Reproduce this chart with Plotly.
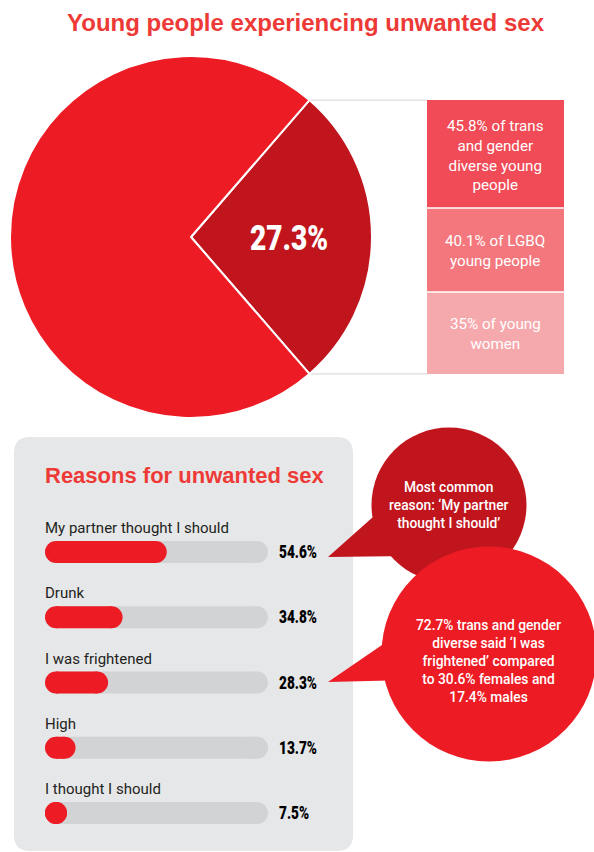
import math
import plotly.graph_objects as go

W, H = 594, 852

# ---------------- data ----------------
overall_share = [27.3, 72.7]
overall_labels = ["Experienced unwanted sex", "Did not"]

group_notes = [
    "45.8% of trans<br>and gender<br>diverse young<br>people",
    "40.1% of LGBQ<br>young people",
    "35% of young<br>women",
]

reasons = [
    "My partner thought I should",
    "Drunk",
    "I was frightened",
    "High",
    "I thought I should",
]
reason_pct = [54.6, 34.8, 28.3, 13.7, 7.5]
full_scale = [100, 100, 100, 100, 100]

callouts = [
    "Most common<br>reason: ‘My partner<br>thought I should’",
    "72.7% trans and gender<br>diverse said ‘I was<br>frightened’ compared<br>to 30.6% females and<br>17.4% males",
]

# ---------------- style ----------------
RED = "#ED1C24"
DARK_RED = "#C1151E"
TITLE_RED = "#EE3A36"
BOX_COLORS = ["#F04B56", "#F3777D", "#F6A9AD"]
PANEL = "#E6E7E8"
TRACK = "#D1D3D4"
INK = "#231F20"
RULE = "#DCDDDE"

BODY = "Roboto, 'Open Sans', sans-serif"
HEAD = "'Liberation Sans', Arial, sans-serif"
NUM = "Roboto, 'Liberation Sans', sans-serif"


def px(x):
    return x / W


def py(y):
    return 1 - y / H


# pie geometry (pixels)
CX, CY, R = 191, 237, 181

# bar panel geometry (pixels)
TRACK_X0, TRACK_X1 = 45, 268
ROW_TOP, ROW_BOTTOM = 552, 813
BAR_PX = 22
row_step = (ROW_BOTTOM - ROW_TOP) / (len(reasons) - 1)
# half the bar thickness expressed in percentage units of the track
cap = (BAR_PX / 2) / (TRACK_X1 - TRACK_X0) * 100

fig = go.Figure()

# ---- headline pie ----
fig.add_trace(go.Pie(
    values=overall_share,
    labels=overall_labels,
    sort=False,
    direction="clockwise",
    rotation=90 - overall_share[0] / sum(overall_share) * 180,
    marker=dict(colors=[DARK_RED, RED], line=dict(color="white", width=2)),
    textinfo="none",
    hoverinfo="skip",
    showlegend=False,
    domain=dict(x=[px(CX - R), px(CX + R)], y=[py(CY + R), py(CY - R)]),
))


def pill(values, color):
    """Pill-shaped bars: a thick segment between two round end caps.
    Each pill runs from 0 to its value (never shorter than one round cap)."""
    xs, ys = [], []
    for name, v in zip(reasons, values):
        xs += [cap, max(v - cap, cap), None]
        ys += [name, name, None]
    fig.add_trace(go.Scatter(
        x=xs, y=ys, mode="lines+markers",
        line=dict(color=color, width=BAR_PX),
        marker=dict(size=BAR_PX, color=color, line=dict(width=0)),
        xaxis="x2", yaxis="y2", hoverinfo="skip", showlegend=False,
        cliponaxis=False,
    ))


pill(full_scale, TRACK)
pill(reason_pct, RED)

shapes = []
annotations = []

# ---- grey panel behind the bars ----
x0, y0, x1, y1, r = 14, 437, 353, 851, 16
panel_path = (
    f"M {px(x0 + r)},{py(y0)} L {px(x1 - r)},{py(y0)} "
    f"Q {px(x1)},{py(y0)} {px(x1)},{py(y0 + r)} L {px(x1)},{py(y1 - r)} "
    f"Q {px(x1)},{py(y1)} {px(x1 - r)},{py(y1)} L {px(x0 + r)},{py(y1)} "
    f"Q {px(x0)},{py(y1)} {px(x0)},{py(y1 - r)} L {px(x0)},{py(y0 + r)} "
    f"Q {px(x0)},{py(y0)} {px(x0 + r)},{py(y0)} Z"
)
shapes.append(dict(type="path", path=panel_path, xref="paper", yref="paper",
                   fillcolor=PANEL, line=dict(width=0), layer="below"))

# ---- connector rules from the slice edges to the breakdown boxes ----
half = overall_share[0] / sum(overall_share) * math.pi
ex = CX + R * math.cos(half)
ey_top = CY - R * math.sin(half)
ey_bot = CY + R * math.sin(half)
BOX_X0, BOX_X1 = 427, 564
for yy in (ey_top, ey_bot):
    shapes.append(dict(type="line", xref="paper", yref="paper",
                       x0=px(ex), x1=px(BOX_X0), y0=py(yy), y1=py(yy),
                       line=dict(color=RULE, width=1.2), layer="below"))

# ---- breakdown boxes ----
box_edges = [ey_top, 208, 292, ey_bot]
for i, note in enumerate(group_notes):
    top, bot = box_edges[i], box_edges[i + 1]
    shapes.append(dict(type="rect", xref="paper", yref="paper",
                       x0=px(BOX_X0), x1=px(BOX_X1),
                       y0=py(bot - (0.8 if i < 2 else 0)), y1=py(top + (0.8 if i > 0 else 0)),
                       fillcolor=BOX_COLORS[i], line=dict(width=0), layer="below"))
    annotations.append(dict(text=note, xref="paper", yref="paper",
                            x=px((BOX_X0 + BOX_X1) / 2), y=py((top + bot) / 2 + 1),
                            xanchor="center", yanchor="middle", showarrow=False,
                            font=dict(family=BODY, size=15.2, color="white")))

# ---- share in the highlighted slice ----
annotations.append(dict(text=f"{overall_share[0]}%", xref="paper", yref="paper",
                        x=px(289), y=py(238), xanchor="center", yanchor="middle",
                        showarrow=False,
                        font=dict(family=NUM, size=36, color="white", weight=900)))

# ---- titles ----
annotations.append(dict(text="<b>Young people experiencing unwanted sex</b>",
                        xref="paper", yref="paper", x=px(306), y=py(22),
                        xanchor="center", yanchor="middle", showarrow=False,
                        font=dict(family=HEAD, size=24, color=TITLE_RED)))
annotations.append(dict(text="<b>Reasons for unwanted sex</b>",
                        xref="paper", yref="paper", x=px(43), y=py(476),
                        xanchor="left", yanchor="middle", showarrow=False,
                        font=dict(family=HEAD, size=22, color=TITLE_RED)))

# ---- bar labels and values ----
for name, pct in zip(reasons, reason_pct):
    annotations.append(dict(text=name, xref="x2", yref="y2", x=0, y=name,
                            xshift=-2, yshift=24, xanchor="left", yanchor="middle",
                            showarrow=False,
                            font=dict(family=BODY, size=15, color=INK)))
    annotations.append(dict(text=f"{pct}%", xref="x2", yref="y2", x=100, y=name,
                            xshift=9, xanchor="left", yanchor="middle",
                            showarrow=False,
                            font=dict(family=NUM, size=17.5, color="black", weight=900)))

# ---- speech bubbles ----
bubbles = [
    dict(cx=449, cy=505, r=77.5, color=DARK_RED,
         tail=[(328, 557), (391, 501), (410, 556)]),
    dict(cx=489, cy=654, r=107.5, color=RED,
         tail=[(328, 682), (398, 634), (410, 680)]),
]
for b in bubbles:
    shapes.append(dict(type="circle", xref="paper", yref="paper",
                       x0=px(b["cx"] - b["r"]), x1=px(b["cx"] + b["r"]),
                       y0=py(b["cy"] + b["r"]), y1=py(b["cy"] - b["r"]),
                       fillcolor=b["color"], line=dict(width=0), layer="above"))
    path = "M " + " L ".join(f"{px(x)},{py(y)}" for x, y in b["tail"]) + " Z"
    shapes.append(dict(type="path", path=path, xref="paper", yref="paper",
                       fillcolor=b["color"], line=dict(width=0), layer="above"))

annotations.append(dict(text=callouts[0], xref="paper", yref="paper",
                        x=px(449), y=py(505), xanchor="center", yanchor="middle",
                        showarrow=False,
                        font=dict(family=BODY, size=13.8, color="white", weight=500)))
annotations.append(dict(text=callouts[1], xref="paper", yref="paper",
                        x=px(488), y=py(661), xanchor="center", yanchor="middle",
                        showarrow=False,
                        font=dict(family=BODY, size=13.8, color="white", weight=500)))

fig.update_layout(
    width=W, height=H,
    margin=dict(l=0, r=0, t=0, b=0),
    paper_bgcolor="white",
    plot_bgcolor="rgba(0,0,0,0)",
    showlegend=False,
    shapes=shapes,
    annotations=annotations,
    xaxis2=dict(domain=[px(TRACK_X0), px(TRACK_X1)], range=[0, 100], anchor="y2",
                visible=False, fixedrange=True),
    yaxis2=dict(domain=[py(ROW_BOTTOM + row_step / 2), py(ROW_TOP - row_step / 2)],
                type="category", categoryarray=reasons, categoryorder="array",
                range=[len(reasons) - 0.5, -0.5], anchor="x2",
                visible=False, fixedrange=True),
)

# Percentage figures are set in a condensed cut: squeeze them horizontally,
# keeping the left edge of the bar values and the centre of the pie figure.
condense = """
var gd = document.getElementById('{plot_id}');
gd.querySelectorAll('text.annotation-text').forEach(function (t) {
  var s = t.textContent.trim();
  if (/^[0-9]+(\\.[0-9]+)?%$/.test(s)) {
    var big = parseFloat(t.style.fontSize) > 30;
    t.style.transformBox = 'fill-box';
    t.style.transformOrigin = big ? 'center' : 'left center';
    t.style.transform = 'scaleX(0.78)';
  }
});
"""

fig.write_html("out.html", post_script=condense)
